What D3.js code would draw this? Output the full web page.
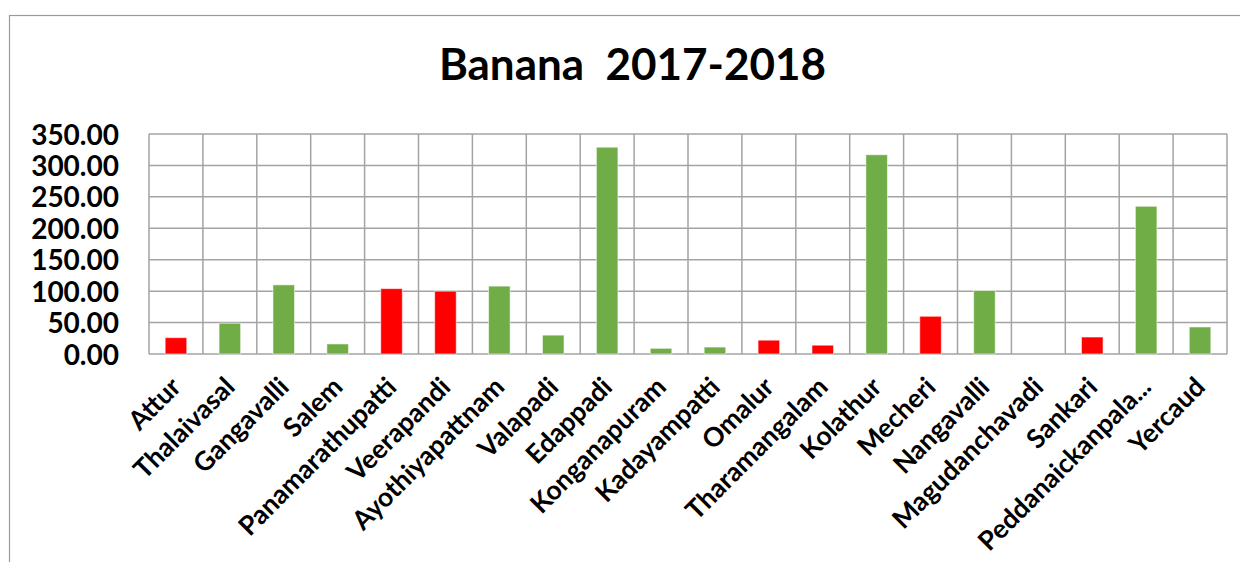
<!DOCTYPE html>
<html>
<head>
<meta charset="utf-8">
<script src="https://cdn.jsdelivr.net/npm/d3@7"></script>
<style>
  html, body { margin: 0; padding: 0; background: #ffffff; }
  svg { display: block; }
  text { font-family: Lato, "Open Sans", sans-serif; font-weight: 700; fill: #000; }
</style>
</head>
<body>
<svg id="chart" width="1240" height="562"></svg>
<script>
// Blocks of Salem district and the banana figures for 2017-2018
const blocks = [
  "Attur", "Thalaivasal", "Gangavalli", "Salem", "Panamarathupatti",
  "Veerapandi", "Ayothiyapattnam", "Valapadi", "Edappadi", "Konganapuram",
  "Kadayampatti", "Omalur", "Tharamangalam", "Kolathur", "Mecheri",
  "Nangavalli", "Magudanchavadi", "Sankari", "Peddanaickanpala...", "Yercaud"
];
const values = [
  26, 49, 110, 16, 104,
  100, 108, 30, 329, 9,
  11, 22, 14, 317, 60,
  101, 0, 27, 235, 43
];
// blocks marked as lagging (drawn in red)
const lagging = [
  true, false, false, false, true,
  true, false, false, false, false,
  false, true, true, false, true,
  false, false, true, false, false
];
const yTicks = [0, 50, 100, 150, 200, 250, 300, 350];
const title = "Banana\u00a0\u00a02017-2018";

const svg = d3.select("#chart");
const W = 1240, H = 562;

// outer chart frame
svg.append("rect")
  .attr("x", 9.5).attr("y", 15.5)
  .attr("width", W).attr("height", H)
  .attr("fill", "none").attr("stroke", "#9a9a9a").attr("stroke-width", 1.2);

const plot = { left: 149, right: 1227, top: 134, bottom: 354 };

const x = d3.scaleBand()
  .domain(blocks)
  .range([plot.left, plot.right])
  .paddingInner(0.6)
  .paddingOuter(0.3);

const y = d3.scaleLinear()
  .domain([0, 350])
  .range([plot.bottom, plot.top]);

const colour = d3.scaleOrdinal()
  .domain([true, false])
  .range(["#ff0000", "#70ad47"]);

// title
svg.append("text")
  .attr("x", 632.5).attr("y", 80)
  .attr("text-anchor", "middle")
  .style("font-size", "44px")
  .text(title);

// horizontal gridlines
const grid = svg.append("g").attr("class", "grid");
grid.selectAll("line.h")
  .data(yTicks)
  .join("line")
  .attr("class", "h")
  .attr("x1", plot.left).attr("x2", plot.right)
  .attr("y1", d => y(d)).attr("y2", d => y(d))
  .attr("stroke", "#a3a3a3").attr("stroke-width", 1.5);

// vertical gridlines on category boundaries
const step = x.step();
const bounds = d3.range(blocks.length + 1).map(i => plot.left + i * step);
grid.selectAll("line.v")
  .data(bounds)
  .join("line")
  .attr("class", "v")
  .attr("x1", d => d).attr("x2", d => d)
  .attr("y1", plot.top).attr("y2", plot.bottom)
  .attr("stroke", "#a3a3a3").attr("stroke-width", 1.5);

// bars
svg.append("g")
  .selectAll("rect")
  .data(blocks.map((b, i) => ({ b, v: values[i], lag: lagging[i] })))
  .join("rect")
  .attr("x", d => x(d.b))
  .attr("width", x.bandwidth())
  .attr("y", d => y(d.v))
  .attr("height", d => y(0) - y(d.v))
  .attr("fill", d => colour(d.lag))
  .attr("stroke", "rgba(255,255,255,0.55)")
  .attr("stroke-width", 1);

// y axis labels
const yAxis = d3.axisLeft(y)
  .tickValues(yTicks)
  .tickFormat(d3.format(".2f"))
  .tickSize(0)
  .tickPadding(0);
svg.append("g")
  .attr("transform", `translate(119,0)`)
  .call(yAxis)
  .call(g => g.select(".domain").remove())
  .call(g => g.selectAll("text")
    .attr("dy", "0.36em")
    .style("font-size", "28px")
    .style("font-family", "Lato, sans-serif")
    .style("font-weight", 700)
    .attr("fill", "#000"));

// x axis labels, rotated
const xAxis = d3.axisBottom(x).tickSize(0).tickPadding(0);
svg.append("g")
  .attr("transform", `translate(0,${plot.bottom})`)
  .call(xAxis)
  .call(g => g.select(".domain").remove())
  .call(g => g.selectAll("text")
    .attr("text-anchor", "end")
    .attr("y", 0).attr("dy", 0)
    .attr("transform", "translate(1,29) rotate(-45) translate(0,8)")
    .style("font-size", "26.5px")
    .style("font-family", "Lato, sans-serif")
    .style("font-weight", 700)
    .attr("fill", "#000"));
</script>
</body>
</html>
